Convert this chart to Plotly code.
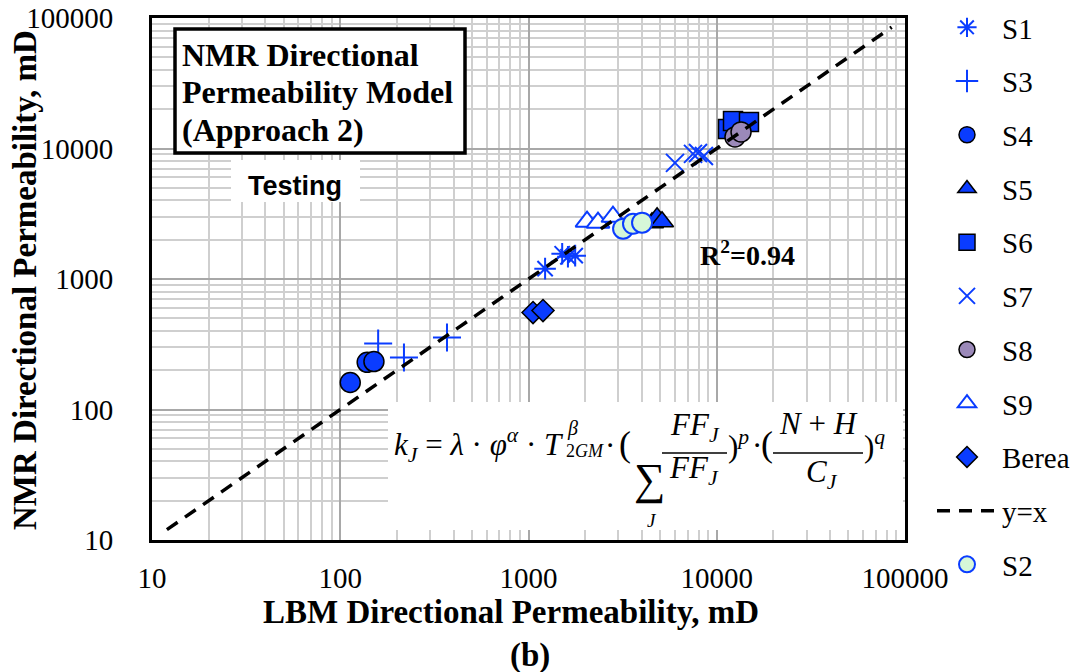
import plotly.graph_objects as go

# ---------------- data ----------------
s1_x = [1225, 1510, 1620, 1770]
s1_y = [1200, 1560, 1480, 1510]
s3_x = [159, 218, 369]
s3_y = [321, 250, 357]
s4_x = [113, 139, 151]
s4_y = [161, 230, 233]
s5_x = [4530, 4820, 5120]
s5_y = [2700, 2950, 2750]
s6_x = [11480, 12200, 14830]
s6_y = [14130, 16260, 15970]
s7_x = [6000, 7480, 7950, 8550]
s7_y = [7760, 9100, 9250, 8770]
s8_x = [12500, 13460]
s8_y = [12270, 13400]
s9_x = [2046, 2340, 2810]
s9_y = [2750, 2700, 3000]
berea_x = [1057, 1194]
berea_y = [553, 573]
s2_x = [3180, 3590, 4010]
s2_y = [2430, 2650, 2700]
line_x = [12, 85000]
line_y = [12, 85000]
tick_vals = [10, 100, 1000, 10000, 100000]
tick_text = ["10", "100", "1000", "10000", "100000"]

BLUE = "#0a3cff"
SERIF = "Liberation Serif"
SANS = "Liberation Sans"

# plot area in pixels
L, R, T, B = 152, 905, 18, 540
W, H = 1086, 672


def px(x):
    return (x - L) / (R - L)


def py(y):
    return (B - y) / (B - T)


fig = go.Figure()


def add(name, xs, ys, symbol, size=20, fill=BLUE, line_color="black", line_w=1.5):
    fig.add_trace(go.Scatter(
        x=xs, y=ys, mode="markers", name=name, legendgroup=name,
        marker=dict(symbol=symbol, size=size, color=fill,
                    line=dict(color=line_color, width=line_w)),
    ))


add("S1", s1_x, s1_y, "asterisk-open", 18, BLUE, BLUE, 2)
add("S3", s3_x, s3_y, "cross-thin-open", 20, BLUE, BLUE, 2)
add("S4", s4_x, s4_y, "circle", 20)
add("S5", s5_x, s5_y, "triangle-up", 20)
add("S6", s6_x, s6_y, "square", 19)
add("S7", s7_x, s7_y, "x-thin-open", 18, BLUE, BLUE, 2)
add("S8", s8_x, s8_y, "circle", 20, "#9b89b9")
add("S9", s9_x, s9_y, "triangle-up", 20, "white", BLUE, 2)
add("Berea", berea_x, berea_y, "diamond", 17)
fig.add_trace(go.Scatter(x=line_x, y=line_y, mode="lines", name="y=x", legendgroup="y=x",
                         line=dict(color="black", width=3.5, dash="13px,9px")))
add("S2", s2_x, s2_y, "circle", 20, "#d6f7d8", BLUE, 2)

axis_common = dict(
    type="log", range=[1, 5], showline=True, linecolor="black", linewidth=3, mirror=True,
    showgrid=True, gridcolor="#a8a8a8", gridwidth=2,
    tickvals=tick_vals, ticktext=tick_text, ticks="",
    tickfont=dict(family=SERIF, size=29, color="black"),
    minor=dict(showgrid=True, gridcolor="#cfcfcf", gridwidth=2, dtick="D1", ticks=""),
    zeroline=False,
)

fig.update_layout(
    width=W, height=H, autosize=False,
    margin=dict(l=L, r=W - R, t=T, b=H - B, pad=0, autoexpand=False),
    paper_bgcolor="white", plot_bgcolor="white",
    xaxis=dict(**axis_common, ticklabelstandoff=10),
    yaxis=dict(**axis_common, ticklabelstandoff=30),
    showlegend=True,
    legend=dict(x=px(932), y=py(2), xanchor="left", yanchor="top",
                font=dict(family=SERIF, size=29, color="black"),
                itemwidth=60, tracegroupgap=13, bgcolor="rgba(0,0,0,0)",
                traceorder="grouped", maxheight=1.0),
    font=dict(family=SERIF, color="black"),
)

shapes = []
# white background boxes
shapes.append(dict(type="rect", xref="paper", yref="paper", x0=px(388), x1=px(903),
                   y0=py(530), y1=py(402), fillcolor="white", line=dict(width=0), layer="above"))
shapes.append(dict(type="rect", xref="paper", yref="paper", x0=px(231), x1=px(360),
                   y0=py(202), y1=py(160), fillcolor="white", line=dict(width=0), layer="above"))
shapes.append(dict(type="rect", xref="paper", yref="paper", x0=px(175), x1=px(465),
                   y0=py(153), y1=py(29), fillcolor="white", line=dict(color="black", width=3.5),
                   layer="above"))
# fraction bars
shapes.append(dict(type="line", xref="paper", yref="paper", x0=px(662), x1=px(727),
                   y0=py(453), y1=py(453), line=dict(color="black", width=1.5), layer="above"))
shapes.append(dict(type="line", xref="paper", yref="paper", x0=px(773), x1=px(863),
                   y0=py(453), y1=py(453), line=dict(color="black", width=1.5), layer="above"))
fig.update_layout(shapes=shapes)

ann = []


def text(xp, yp, s, size, family=SERIF, xanchor="center", yanchor="middle", angle=0):
    ann.append(dict(xref="paper", yref="paper", x=px(xp), y=py(yp), text=s, showarrow=False,
                    xanchor=xanchor, yanchor=yanchor, textangle=angle,
                    font=dict(family=family, size=size, color="black")))


# box title
text(180, 55, "<b>NMR Directional</b>", 32, xanchor="left")
text(180, 92, "<b>Permeability Model</b>", 32, xanchor="left")
text(180, 130, "<b>(Approach 2)</b>", 32, xanchor="left")
text(295, 186, "<b>Testing</b>", 27, family=SANS)
text(747, 253, "<b>R<sup>2</sup>=0.94</b>", 28)
# axis titles
text(511, 612, "<b>LBM Directional Permeability, mD</b>", 33)
text(530, 655, "<b>(b)</b>", 33)
text(25, 280, "<b>NMR Directional Permeability, mD</b>", 33, angle=-90)
# formula
text(392, 445, "<i>k</i><sub><i>J</i></sub> = <i>λ</i> · <i>φ</i><sup><i>α</i></sup> · <i>T</i>",
     31, xanchor="left")
text(565, 428, "<i>β</i>", 20, xanchor="left")
text(564, 451, "2<i>GM</i>", 18, xanchor="left")
text(610, 445, "·", 31)
text(625, 444, "(", 36)
text(695, 427, "<i>FF</i><sub><i>J</i></sub>", 31)
text(649, 479, "∑", 44)
text(667, 470, "<i>FF</i><sub><i>J</i></sub>", 31, xanchor="left")
text(652, 520, "<i>J</i>", 19)
text(726, 444, ")<sup><i>p</i></sup>", 31, xanchor="left")
text(757, 445, "·", 31)
text(767, 444, "(", 36)
text(818, 423, "<i>N</i> + <i>H</i>", 31)
text(822, 474, "<i>C</i><sub><i>J</i></sub>", 31)
text(862, 444, ")<sup><i>q</i></sup>", 31, xanchor="left")
fig.update_layout(annotations=ann)

fig.write_html("out.html")
